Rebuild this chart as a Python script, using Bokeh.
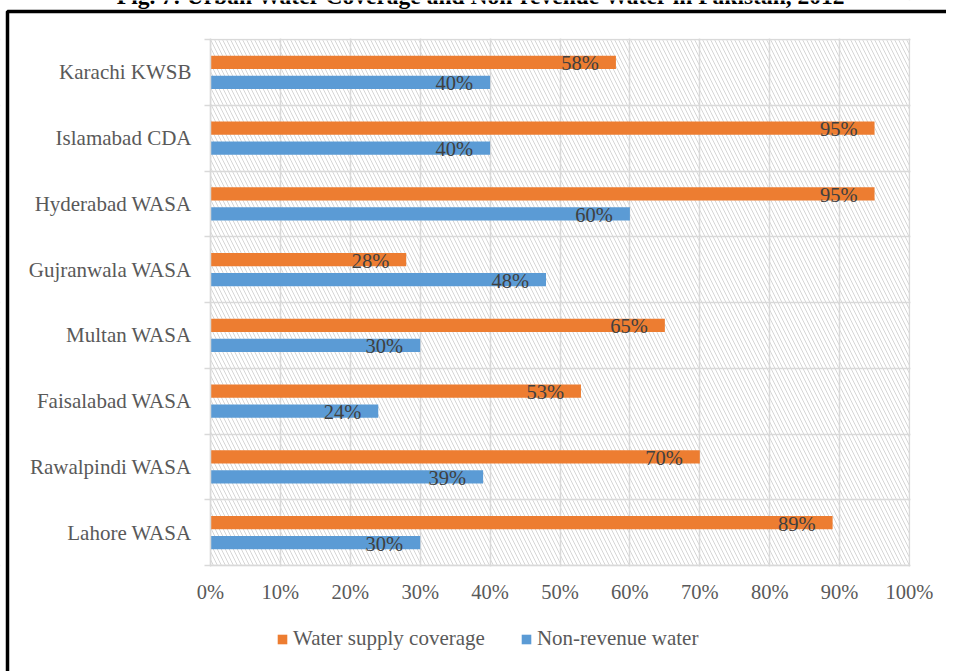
from bokeh.plotting import figure
from bokeh.models import (Range1d, FixedTicker, NumeralTickFormatter, BoxAnnotation,
                          Legend, LegendItem, ColumnDataSource, Label)
from bokeh.embed import file_html
from bokeh.resources import INLINE
from bokeh.core.properties import value

# ---------------- data ----------------
cities = ["Lahore WASA", "Rawalpindi WASA", "Faisalabad WASA", "Multan WASA",
          "Gujranwala WASA", "Hyderabad WASA", "Islamabad CDA", "Karachi KWSB"]
coverage = [89, 70, 53, 65, 28, 95, 95, 58]
non_revenue = [30, 39, 24, 30, 48, 60, 40, 40]
x_ticks = [0, 10, 20, 30, 40, 50, 60, 70, 80, 90, 100]
series_names = ["Water supply coverage", "Non-revenue water"]
title_text = "Fig. 7: Urban Water Coverage and Non-revenue Water in Pakistan, 2012"

# ---------------- style / layout (page pixels) ----------------
FONT = "Liberation Serif"
ORANGE = "#ED7D31"
BLUE = "#5B9BD5"
GRID = "#d9d9d9"
AXIS_TXT = "#595959"
LABEL_TXT = "#404040"
W, H = 946, 671
X0_PX, X1_PX = 210, 909          # 0% and 100%
Y_TOP_PX, Y_BOT_PX = 39, 565     # top and bottom of the category band
BAR_H = 0.2
DODGE = 0.152

n = len(cities)
centers = [i + 0.5 for i in range(n)]
bounds = [i for i in range(n + 1)]
sx = X1_PX - X0_PX                       # px per unit of x
sy = (Y_BOT_PX - Y_TOP_PX) / n           # px per category


def dx(px):
    return (px - X0_PX) / sx


def dy(py):
    return (Y_BOT_PX - py) / sy


p = figure(width=W, height=H, output_backend="svg", toolbar_location=None,
           title=None, x_range=Range1d(dx(0), dx(W)), y_range=Range1d(dy(H), dy(0)),
           min_border=0)
p.outline_line_color = None
p.background_fill_color = "white"
p.border_fill_color = "white"

# hatched plot area
hatch = BoxAnnotation(left=0, right=1, bottom=0, top=n, fill_color="white",
                      fill_alpha=1.0, line_color=None, hatch_pattern="\\",
                      hatch_color="#d6d6d6", hatch_alpha=1.0, hatch_scale=8,
                      hatch_weight=1, level="image")
p.add_layout(hatch)

cov_src = ColumnDataSource(dict(
    y=[c + DODGE for c in centers], x=[v / 100 for v in coverage],
    lab=[f"{v}%" for v in coverage]))
nrw_src = ColumnDataSource(dict(
    y=[c - DODGE for c in centers], x=[v / 100 for v in non_revenue],
    lab=[f"{v}%" for v in non_revenue]))

r_cov = p.hbar(y="y", right="x", left=0, height=BAR_H, source=cov_src,
               fill_color=ORANGE, line_color=None)
r_nrw = p.hbar(y="y", right="x", left=0, height=BAR_H, source=nrw_src,
               fill_color=BLUE, line_color=None)

for src in (cov_src, nrw_src):
    p.text(x="x", y="y", text="lab", source=src, text_align="right",
           text_baseline="middle", x_offset=-17, y_offset=1,
           text_font=value(FONT), text_font_size="20.5px", text_color=LABEL_TXT)

# x axis, pinned at the bottom of the categories
p.xaxis.fixed_location = 0
p.xaxis.bounds = (0, 1)
p.xaxis.ticker = FixedTicker(ticks=[t / 100 for t in x_ticks])
p.xaxis.formatter = NumeralTickFormatter(format="0%")
p.xaxis.axis_line_color = GRID
p.xaxis.axis_line_width = 1.5
p.xaxis.major_tick_line_color = None
p.xaxis.major_tick_out = 0
p.xaxis.major_tick_in = 0
p.xaxis.minor_tick_line_color = None
p.xaxis.major_label_standoff = 15
p.xaxis.major_label_text_font = FONT
p.xaxis.major_label_text_font_size = "20.5px"
p.xaxis.major_label_text_color = AXIS_TXT

# y axis pinned at 0 %: labels at category centres, ticks at boundaries
p.yaxis.fixed_location = 0
p.yaxis.bounds = (0, n)
p.yaxis.ticker = FixedTicker(ticks=centers, minor_ticks=bounds)
p.yaxis.major_label_overrides = {c: name for c, name in zip(centers, cities)}
p.yaxis.axis_line_color = GRID
p.yaxis.axis_line_width = 1.5
p.yaxis.major_tick_line_color = None
p.yaxis.major_tick_out = 0
p.yaxis.major_tick_in = 0
p.yaxis.minor_tick_line_color = GRID
p.yaxis.minor_tick_line_width = 1.5
p.yaxis.minor_tick_out = 6
p.yaxis.minor_tick_in = 0
p.yaxis.major_label_standoff = 13
p.yaxis.major_label_text_font = FONT
p.yaxis.major_label_text_font_size = "21px"
p.yaxis.major_label_text_color = AXIS_TXT

# grids
p.xgrid.ticker = FixedTicker(ticks=[t / 100 for t in x_ticks])
p.xgrid.grid_line_color = GRID
p.xgrid.grid_line_width = 1.5
p.ygrid.ticker = FixedTicker(ticks=bounds)
p.ygrid.grid_line_color = GRID
p.ygrid.grid_line_width = 1.5

# white covers outside the plot band (hide the grid lines there)
ex, ey = 1 / sx, 1 / sy
for kw in (dict(top=-ey), dict(bottom=n + ey), dict(right=-ex), dict(left=1 + ex)):
    p.add_layout(BoxAnnotation(fill_color="white", fill_alpha=1.0, line_color=None,
                               level="underlay", **kw))

# legend under the axis
legend = Legend(items=[LegendItem(label=series_names[0], renderers=[r_cov]),
                       LegendItem(label=series_names[1], renderers=[r_nrw])],
                location=(276, 20), orientation="horizontal", padding=0, margin=0,
                spacing=35, label_standoff=5, glyph_width=12, glyph_height=12,
                border_line_color=None, background_fill_alpha=0,
                label_text_font=FONT, label_text_font_size="21px",
                label_text_color=AXIS_TXT)
p.add_layout(legend)

# outer black frame (only its left and top edges fall inside the picture)
p.add_layout(BoxAnnotation(left=dx(7), top=dy(11), right=dx(W + 60), bottom=dy(H + 60),
                           fill_color=None, fill_alpha=0, line_color="black",
                           line_alpha=1.0, line_width=3.5, level="overlay"))

# title, cut by the top edge as in the reference
p.add_layout(Label(x=dx(481), y=dy(-5), text=title_text, text_align="center",
                   text_baseline="alphabetic", text_font=FONT,
                   text_font_style="bold", text_font_size="23.5px",
                   text_color="black"))

open("out.html", "w").write(file_html(p, INLINE))
